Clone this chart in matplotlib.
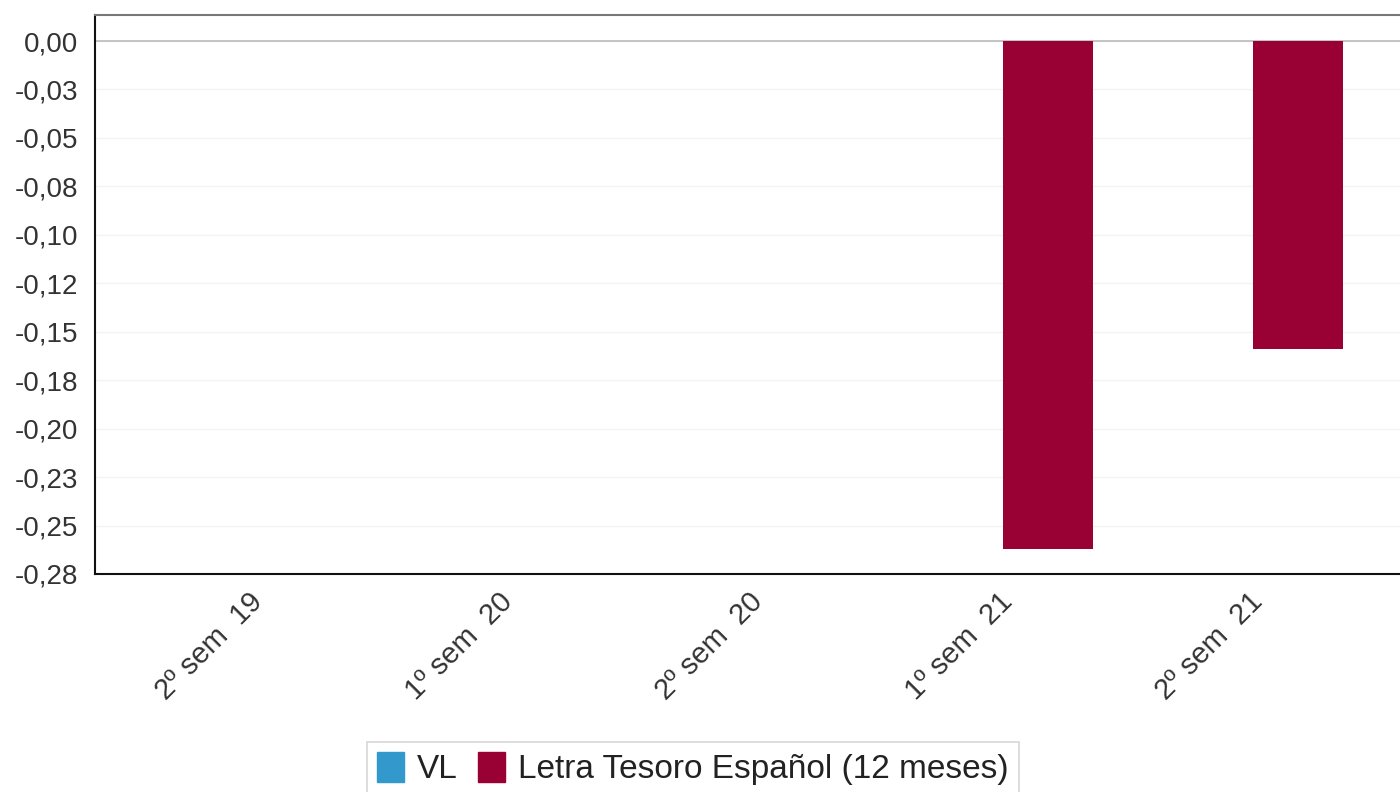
import numpy as np
import matplotlib
matplotlib.use("Agg")
import matplotlib.pyplot as plt
from matplotlib.patches import Patch

# data
categories = ["2º sem  19", "1º sem  20", "2º sem  20", "1º sem  21", "2º sem  21"]
vl = [np.nan, np.nan, np.nan, np.nan, np.nan]
letra = [np.nan, np.nan, np.nan, -0.262, -0.159]
series_names = ["VL", "Letra Tesoro Español (12 meses)"]
ytick_vals = [0, -0.025, -0.05, -0.075, -0.1, -0.125, -0.15, -0.175, -0.2, -0.225, -0.25, -0.275]
ytick_labels = ["0,00", "-0,03", "-0,05", "-0,08", "-0,10", "-0,12", "-0,15",
                "-0,18", "-0,20", "-0,23", "-0,25", "-0,28"]

blue = "#3399cc"
red = "#990033"

plt.rcParams['font.family'] = ['Liberation Sans', 'DejaVu Sans']

fig = plt.figure(figsize=(14, 7.92), dpi=100)
ax = fig.add_axes([0.0679, 0.2753, 0.94, 0.981 - 0.2753])

x = np.arange(len(categories))
w = 0.36
ax.bar(x - 0.24, vl, w, color=blue)
ax.bar(x + 0.12, letra, w, color=red, zorder=3)

ax.set_xlim(-0.692, -0.692 + 1316 / 250)
ax.set_ylim(-0.275, 0.0134)

ax.set_yticks(ytick_vals)
ax.set_yticklabels(ytick_labels)
ax.set_xticks(x)
ax.set_xticklabels(categories, rotation=45, ha="right", rotation_mode="default")
ax.tick_params(axis="y", length=0, pad=12, labelsize=20, colors="#333333")
ax.tick_params(axis="x", length=0, pad=10, labelsize=21, colors="#333333")

ax.grid(axis="y", color="#f3f3f3", linewidth=1)
ax.axhline(0, color="#bbbbbb", linewidth=1.2, zorder=2)
ax.set_axisbelow(True)

ax.spines["right"].set_visible(False)
ax.spines["top"].set_color("#777777")
ax.spines["top"].set_linewidth(1.5)
ax.spines["left"].set_color("#111111")
ax.spines["left"].set_linewidth(1.5)
ax.spines["bottom"].set_color("#111111")
ax.spines["bottom"].set_linewidth(1.5)

handles = [Patch(color=blue), Patch(color=red)]
leg = fig.legend(handles, series_names, loc="upper center",
                 bbox_to_anchor=(0.495, 0.063), ncol=2, fontsize=24,
                 frameon=True, fancybox=False, edgecolor="#cccccc",
                 handlelength=0.8, handleheight=1.0, handletextpad=0.4,
                 columnspacing=0.6, borderaxespad=0, borderpad=0.3)
leg.get_frame().set_linewidth(1.2)
for t in leg.get_texts():
    t.set_color("#222222")

fig.savefig("out.png", dpi=100)
